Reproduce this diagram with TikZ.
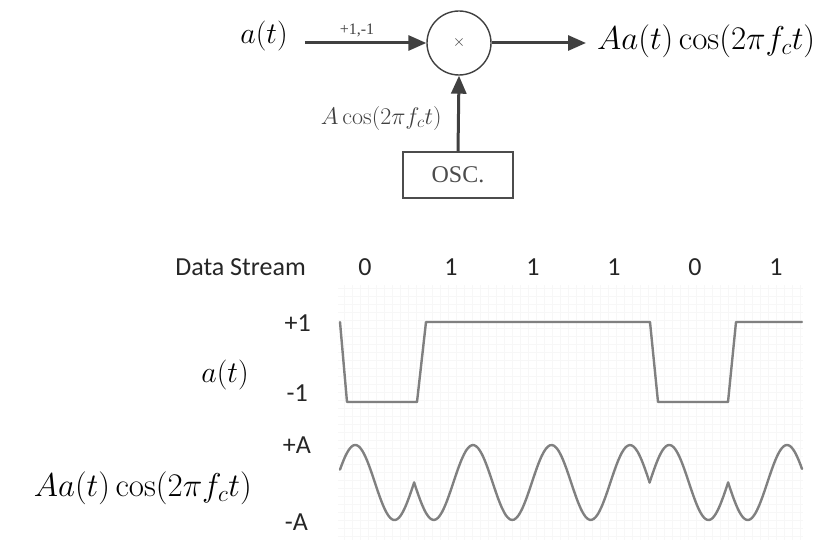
\RequirePackage{fix-cm}
\documentclass[tikz,border=0pt]{standalone}
\usepackage{fontspec}
\newfontfamily\sansfont{Carlito}
\newfontfamily\oscfont{Liberation Serif}
\usetikzlibrary{arrows.meta}

\tikzset{
    flow/.style = {
        line width=3pt,
        black!75,
        -{Triangle[length=18pt,width=15pt]}
    },
    mixer/.style = {
        draw,
        circle,
        line width=1.4pt,
        black!75,
        minimum size=64pt,
        inner sep=0pt
    },
    oscbox/.style = {
        draw,
        rectangle,
        line width=1.3pt,
        black!70,
        minimum width=110pt,
        minimum height=46pt
    },
    signal/.style = {
        line width=2.4pt,
        black!50,
        line join=round,
        line cap=round
    },
    gridline/.style = {
        black!3,
        line width=0.4pt
    },
    bigmath/.style = {
        font=\fontsize{30}{34}\selectfont,
        inner sep=0pt
    },
    widemath/.style = {
        font=\fontsize{33}{36}\selectfont,
        inner sep=0pt
    },
    tick/.style = {
        font=\sansfont\fontsize{26}{29}\selectfont,
        inner sep=0pt,
        black!85
    }
}

\begin{document}
\begin{tikzpicture}[x=1pt, y=-1pt]
    \useasboundingbox (0,0) rectangle (838,545);

    % Draw the modulator
    \node[bigmath] (in) at (264,36) {$a(t)$};
    \node[mixer] (mult) at (459,43) {\fontsize{16}{16}\selectfont$\times$};
    \node[widemath, anchor=west] (out) at (597,41) {$Aa(t)\cos(2\pi f_c t)$};
    \node[oscbox] (osc) at (458,175) {\oscfont\fontsize{24}{26}\selectfont OSC.};

    \draw[flow, shorten <=17pt] (in.east |- mult.west) -- node[above=1pt, font=\oscfont\fontsize{16}{17}\selectfont] {+1,-1} (mult.west);
    \draw[flow, shorten >=11pt] (mult.east) -- (out.west |- mult.east);
    \draw[flow] (osc.north) -- node[pos=0.44, left=12pt, font=\fontsize{24}{26}\selectfont] {$A\cos(2\pi f_c t)$} (mult.south);

    % Draw background grid
    \draw[gridline, step=8pt] (338,285) grid (803,540);

    % Draw labels
    \node[tick, anchor=east] (stream) at (306,267) {Data Stream};
    \foreach \x/\b [count=\i] in {365/0, 451/1, 533/1, 614/1, 695/0, 776/1}
        \node[tick] (bit\i) at (\x,267) {\b};
    \node[tick, anchor=east] (hi) at (311,323) {+1};
    \node[tick, anchor=east] (lo) at (308,393) {-1};
    \node[tick, anchor=east] (ahi) at (311,445) {+A};
    \node[tick, anchor=east] (alo) at (308,522) {-A};
    \node[bigmath] (datasig) at (225,375) {$a(t)$};
    \node[widemath, anchor=east] (modsig) at (252,488) {$Aa(t)\cos(2\pi f_c t)$};

    % Draw waveforms
    \draw[signal] (340,322) -- (347,402) -- (417,402) -- (426,322) -- (650,322)
        -- (658,402) -- (728,402) -- (736,322) -- (802,322);
    \foreach \a/\b/\s in {340/414.125/1, 414.125/649.625/-1, 649.625/728.125/1, 728.125/802/-1}
        \draw[signal] plot[domain=\a:\b, samples=60, smooth]
            (\x, {482.5 + \s*37.5*cos((\x-394.5)/78.5*360)});
\end{tikzpicture}
\end{document}
